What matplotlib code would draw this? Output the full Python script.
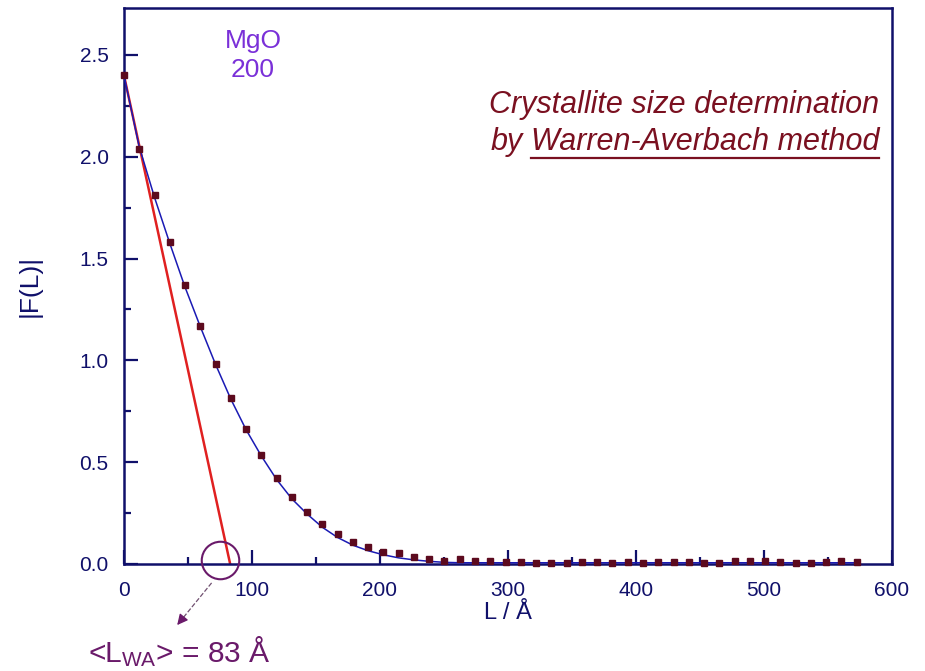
import matplotlib
matplotlib.use("Agg")
import matplotlib.pyplot as plt
from matplotlib.lines import Line2D
from matplotlib.ticker import MultipleLocator

plt.rcParams["font.family"] = ["Liberation Sans", "DejaVu Sans"]
plt.rcParams["mathtext.fontset"] = "custom"
plt.rcParams["mathtext.rm"] = "Liberation Sans"
plt.rcParams["mathtext.it"] = "Liberation Sans:italic"

# Fourier coefficients of the MgO 200 profile
L_vals = [0.0, 11.9, 23.9, 35.8, 47.7, 59.7, 71.6, 83.5, 95.4, 107.4,
          119.3, 131.2, 143.2, 155.1, 167.0, 179.0, 190.9, 202.8, 214.7, 226.7,
          238.6, 250.5, 262.5, 274.4, 286.3, 298.3, 310.2, 322.1, 334.0, 346.0,
          357.9, 369.8, 381.8, 393.7, 405.6, 417.6, 429.5, 441.4, 453.3, 465.3,
          477.2, 489.1, 501.1, 513.0, 524.9, 536.9, 548.8, 560.7, 572.6]
F_meas = [2.40, 2.04, 1.81, 1.58, 1.37, 1.17, 0.982, 0.813, 0.665, 0.537,
          0.422, 0.331, 0.254, 0.195, 0.147, 0.108, 0.085, 0.060, 0.052, 0.036,
          0.023, 0.015, 0.023, 0.015, 0.016, 0.011, 0.010, 0.006, 0.006, 0.005,
          0.010, 0.008, 0.006, 0.008, 0.005, 0.010, 0.012, 0.008, 0.006, 0.005,
          0.014, 0.016, 0.016, 0.008, 0.006, 0.006, 0.010, 0.014, 0.012]
F_fit = [2.40, 2.05, 1.80, 1.575, 1.36, 1.165, 0.98, 0.81, 0.66, 0.53,
         0.415, 0.32, 0.245, 0.18, 0.13, 0.092, 0.065, 0.045, 0.03, 0.02,
         0.013, 0.008, 0.006, 0.006, 0.006, 0.006, 0.006, 0.006, 0.006, 0.006,
         0.006, 0.006, 0.006, 0.006, 0.006, 0.006, 0.006, 0.006, 0.006, 0.006,
         0.006, 0.006, 0.006, 0.006, 0.006, 0.006, 0.006, 0.006, 0.006]

# initial slope -> mean column length
F0 = 2.40
L_WA = 83
circle_at = (75, 0.02)
arrow_tail = (68.5, -0.093)
arrow_head = (41.6, -0.30)

navy = "#10106a"
maroon = "#5c0a1e"
darkred = "#7a1020"
purple = "#6a1a6a"
violet = "#7a30d8"

fig = plt.figure(figsize=(9.25, 6.71), dpi=100)
ax = fig.add_axes([0.134, 0.1595, 0.830, 0.8285])

ax.plot([0, L_WA], [F0, 0], color="#e02020", lw=1.8, zorder=2)
ax.plot(L_vals, F_fit, color="#1a1ab4", lw=1.1, zorder=3)
ax.plot(L_vals, F_meas, ls="none", marker="s", ms=4.3, color=maroon, zorder=4,
        clip_on=False)

ax.set_xlim(0, 600)
ax.set_ylim(0, 2.73)
ax.xaxis.set_major_locator(MultipleLocator(100))
ax.xaxis.set_minor_locator(MultipleLocator(50))
ax.yaxis.set_major_locator(MultipleLocator(0.5))
ax.yaxis.set_minor_locator(MultipleLocator(0.25))
ax.yaxis.set_major_formatter(plt.FormatStrFormatter("%.1f"))
ax.tick_params(which="both", direction="in", colors=navy, width=1.6,
               labelsize=15, labelcolor=navy)
ax.tick_params(which="major", length=10, pad=12)
ax.tick_params(which="minor", length=5)
ax.tick_params(axis="y", which="major", pad=11)
for s in ax.spines.values():
    s.set_color(navy)
    s.set_linewidth(1.8)

ax.set_xlabel("L / Å", fontsize=17, color=navy, labelpad=2)
ax.set_ylabel("|F(L)|", fontsize=19, color=navy, labelpad=27)

ax.text(0.168, 0.914, "MgO\n200", transform=ax.transAxes, ha="center", va="center",
        fontsize=19, color=violet, linespacing=1.25)

# circle around the intercept and arrow to the result
ax.plot(*circle_at, marker="o", ms=27, mfc="none", mec=purple, mew=1.5,
        clip_on=False, zorder=5)
mid = (arrow_tail[0] + 0.85 * (arrow_head[0] - arrow_tail[0]),
       arrow_tail[1] + 0.85 * (arrow_head[1] - arrow_tail[1]))
ax.plot([arrow_tail[0], mid[0]], [arrow_tail[1], mid[1]], ls="--", lw=0.9,
        color="#705070", clip_on=False)
ax.annotate("", xy=arrow_head, xytext=mid, xycoords="data",
            arrowprops=dict(arrowstyle="-|>", color=purple, lw=0.9,
                            mutation_scale=16, shrinkA=0, shrinkB=0),
            annotation_clip=False)
ax.text(-28, -0.48, r"<L$_{\rm WA}$> = 83 Å", fontsize=21.5, color=purple,
        ha="left", va="baseline", clip_on=False)

x_right = 0.984
fs_title = 22
ax.text(x_right, 0.8255, "Crystallite size determination", transform=ax.transAxes,
        ha="right", va="center", fontsize=fs_title, style="italic", color=darkred)
t_wa = ax.text(x_right, 0.759, "Warren-Averbach method", transform=ax.transAxes,
               ha="right", va="center", fontsize=fs_title, style="italic", color=darkred)

fig.canvas.draw()
r = fig.canvas.get_renderer()
bb = t_wa.get_window_extent(r)
x_by = ax.transAxes.inverted().transform((bb.x0 - 8, 0))[0]
ax.text(x_by, 0.759, "by", transform=ax.transAxes, ha="right", va="center",
        fontsize=fs_title, style="italic", color=darkred)
y_ul = bb.y0 - 1
p0 = fig.transFigure.inverted().transform((bb.x0, y_ul))
p1 = fig.transFigure.inverted().transform((bb.x1, y_ul))
fig.add_artist(Line2D([p0[0], p1[0]], [p0[1], p1[1]], color=darkred, lw=1.6))

fig.savefig("out.png", dpi=100)
